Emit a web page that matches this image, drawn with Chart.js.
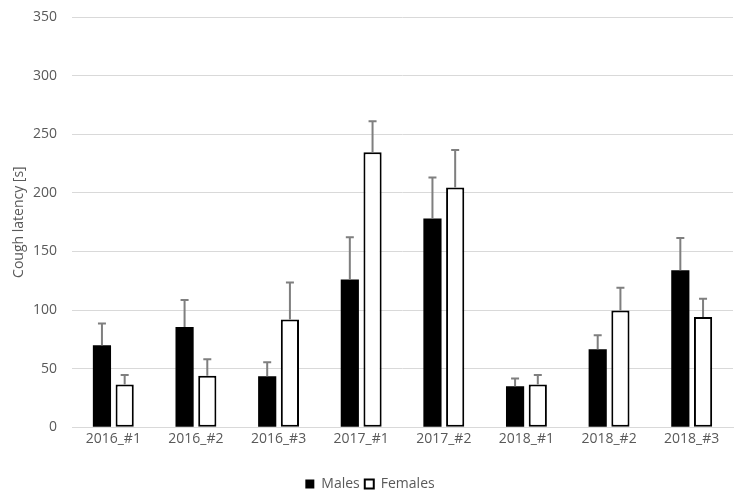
<!DOCTYPE html>
<html>
<head>
<meta charset="utf-8">
<script src="https://cdn.jsdelivr.net/npm/chart.js@4"></script>
<style>
  html, body { margin: 0; padding: 0; background: #fff; }
  #wrap { width: 743px; height: 497px; }
</style>
</head>
<body>
<div id="wrap"><canvas id="chart" width="743" height="497"></canvas></div>
<script>
const categories = ['2016_#1', '2016_#2', '2016_#3', '2017_#1', '2017_#2', '2018_#1', '2018_#2', '2018_#3'];
const males = [70, 85.5, 43.5, 126, 178, 35, 66.5, 134];
const malesErr = [18.5, 23, 12, 36, 35, 6.5, 12, 27.5];
const females = [36.5, 44, 92, 234.5, 204.5, 36.5, 99.5, 94];
const femalesErr = [8, 14, 31.5, 26.5, 32, 8, 19.5, 15.5];
const yTicks = [0, 50, 100, 150, 200, 250, 300, 350];

const errors = [malesErr, femalesErr];
const textGray = '#595959';

// upward error bars, drawn from each bar's top through the y scale
const errorBars = {
  id: 'errorBars',
  afterDatasetsDraw(chart) {
    const ctx = chart.ctx;
    const y = chart.scales.y;
    ctx.save();
    ctx.strokeStyle = '#7f7f7f';
    ctx.lineWidth = 2;
    chart.data.datasets.forEach((ds, di) => {
      const meta = chart.getDatasetMeta(di);
      meta.data.forEach((bar, i) => {
        const top = y.getPixelForValue(ds.data[i] + errors[di][i]);
        const base = y.getPixelForValue(ds.data[i]);
        ctx.beginPath();
        ctx.moveTo(bar.x, base);
        ctx.lineTo(bar.x, top);
        ctx.moveTo(bar.x - 4, top);
        ctx.lineTo(bar.x + 4, top);
        ctx.stroke();
      });
    });
    ctx.restore();
  }
};

new Chart(document.getElementById('chart'), {
  type: 'bar',
  data: {
    labels: categories,
    datasets: [{
      label: 'Males',
      data: males,
      backgroundColor: '#000000',
      borderColor: '#000000',
      borderWidth: 0,
      categoryPercentage: 0.55,
      barPercentage: 0.8
    }, {
      label: 'Females',
      data: females,
      backgroundColor: '#ffffff',
      borderColor: '#000000',
      borderWidth: 2,
      borderSkipped: false,
      categoryPercentage: 0.55,
      barPercentage: 0.8
    }]
  },
  options: {
    responsive: false,
    animation: false,
    layout: { padding: { top: 17, right: 10, left: 7, bottom: -4 } },
    plugins: {
      legend: {
        position: 'bottom',
        labels: {
          boxWidth: 9,
          boxHeight: 9,
          color: textGray,
          font: { family: 'Open Sans', size: 14 },
          padding: 5
        }
      },
      tooltip: { enabled: false }
    },
    scales: {
      x: {
        grid: { display: false, drawTicks: false },
        border: { display: true, color: '#d9d9d9', width: 1 },
        ticks: { color: textGray, font: { family: 'Open Sans', size: 14 }, padding: 3 },
        afterFit: s => { s.height += 22; }
      },
      y: {
        min: 0,
        max: 350,
        afterBuildTicks: axis => { axis.ticks = yTicks.map(v => ({ value: v })); },
        afterFit: s => { s.width = 65; s.paddingTop = 0; s.paddingBottom = 0; },
        grid: { color: '#d9d9d9', lineWidth: 1, drawTicks: false },
        border: { display: false },
        ticks: { color: textGray, font: { family: 'Open Sans', size: 14 }, padding: 15 },
        title: {
          display: true,
          text: 'Cough latency [s]',
          color: textGray,
          font: { family: 'Open Sans', size: 14 },
          padding: { bottom: 4 }
        }
      }
    }
  },
  plugins: [errorBars]
});
</script>
</body>
</html>
